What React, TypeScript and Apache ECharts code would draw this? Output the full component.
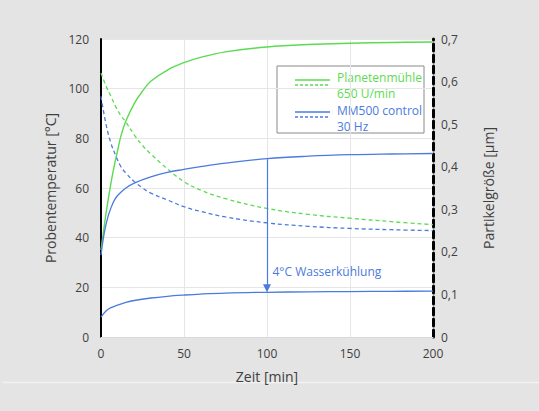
import React, { useEffect, useRef } from "react";
import * as echarts from "echarts";

// Zeit [min]
const planetTime = [0, 2, 4, 6, 8, 10, 12, 15, 20, 25, 30, 40, 50, 60, 75, 100, 125, 150, 175, 200];
// Probentemperatur [°C], Planetenmühle 650 U/min
const planetTemp = [35, 45, 54, 62, 69, 75, 81, 87, 94, 99, 103, 107.5, 110.5, 112.6, 114.8, 116.8, 117.8, 118.3, 118.6, 118.8];

const sizeTime = [0, 3, 6, 9, 12, 15, 20, 25, 30, 40, 50, 60, 75, 100, 125, 150, 175, 200];
// Partikelgröße [µm]
const planetSize = [0.62, 0.59, 0.565, 0.54, 0.52, 0.505, 0.475, 0.45, 0.43, 0.395, 0.365, 0.345, 0.325, 0.302, 0.288, 0.279, 0.271, 0.264];
const mmSize = [0.565, 0.5, 0.455, 0.425, 0.4, 0.385, 0.365, 0.35, 0.338, 0.322, 0.306, 0.295, 0.282, 0.268, 0.26, 0.255, 0.252, 0.25];

const mmTime = [0, 2, 4, 6, 8, 10, 15, 20, 30, 40, 50, 60, 75, 100, 125, 150, 175, 200];
const mmTemp = [33, 42, 48, 52, 55, 57, 60, 62, 64.5, 66.3, 67.5, 68.6, 70, 71.8, 72.8, 73.4, 73.7, 73.9];

const coolTime = [0, 3, 6, 10, 15, 20, 30, 40, 50, 60, 75, 100, 125, 150, 175, 200];
const coolTemp = [8, 10.5, 11.8, 12.8, 13.9, 14.7, 15.7, 16.4, 16.9, 17.3, 17.7, 18.0, 18.2, 18.3, 18.4, 18.5];

const GREEN = "#5cdb52";
const BLUE = "#4b7bdc";
const FONT = "Open Sans";

const pairs = (xs: number[], ys: number[]) => xs.map((x, i) => [x, ys[i]]);

const App: React.FC = () => {
  const chartRef = useRef<HTMLDivElement>(null);

  useEffect(() => {
    document.body.style.margin = "0";
    if (!chartRef.current) return;
    const chart = echarts.init(chartRef.current, null, { renderer: "svg" });

    const axisLabel = { color: "#404040", fontSize: 12, fontFamily: FONT };
    const nameStyle = { color: "#404040", fontSize: 14, fontFamily: FONT };
    const lineBase = { type: "line", smooth: 0.4, showSymbol: false };

    chart.setOption({
      animation: false,
      backgroundColor: "#e4e4e4",
      textStyle: { fontFamily: FONT },
      grid: { left: 101, right: 106, top: 39, bottom: 74, show: true, backgroundColor: "#ffffff", borderWidth: 0 },
      xAxis: {
        type: "value",
        min: 0,
        max: 200,
        interval: 50,
        name: "Zeit [min]",
        nameLocation: "middle",
        nameGap: 32,
        nameTextStyle: nameStyle,
        axisLine: { show: true, lineStyle: { color: "#dadada" } },
        axisTick: { show: false },
        axisLabel: { ...axisLabel, margin: 10 },
        splitLine: { lineStyle: { color: "#e6e6e6" } },
      },
      yAxis: [
        {
          type: "value",
          min: 0,
          max: 120,
          interval: 20,
          name: "Probentemperatur [°C]",
          nameLocation: "middle",
          nameGap: 40,
          nameTextStyle: nameStyle,
          axisLine: { show: true, lineStyle: { color: "#000", width: 2 } },
          axisTick: { show: false },
          axisLabel: { ...axisLabel, margin: 12 },
          splitLine: { lineStyle: { color: "#e6e6e6" } },
        },
        {
          type: "value",
          min: 0,
          max: 0.7,
          interval: 0.1,
          position: "right",
          name: "Partikelgröße [µm]",
          nameLocation: "middle",
          nameGap: 48,
          nameTextStyle: nameStyle,
          axisLine: { show: true, lineStyle: { color: "#000", width: 3, type: [7, 4] } },
          axisTick: { show: false },
          axisLabel: {
            ...axisLabel,
            margin: 8,
            formatter: (v: number) => (Math.round(v * 10) / 10).toString().replace(".", ","),
          },
          splitLine: { show: false },
        },
      ],
      series: [
        {
          ...lineBase,
          name: "Planetenmühle Temperatur",
          data: pairs(planetTime, planetTemp),
          lineStyle: { color: GREEN, width: 1.4 },
        },
        {
          ...lineBase,
          name: "Planetenmühle Partikelgröße",
          yAxisIndex: 1,
          data: pairs(sizeTime, planetSize),
          lineStyle: { color: GREEN, width: 1.3, type: [4, 3] },
        },
        {
          ...lineBase,
          name: "MM500 Temperatur",
          data: pairs(mmTime, mmTemp),
          lineStyle: { color: BLUE, width: 1.3 },
          markLine: {
            silent: true,
            symbol: ["none", "triangle"],
            symbolSize: [8, 8],
            label: { show: false },
            lineStyle: { color: BLUE, width: 1.2, type: "solid" },
            data: [[{ coord: [100, 71.6] }, { coord: [100, 19.6] }]],
          },
        },
        {
          ...lineBase,
          name: "MM500 Partikelgröße",
          yAxisIndex: 1,
          data: pairs(sizeTime, mmSize),
          lineStyle: { color: BLUE, width: 1.3, type: [4, 3] },
        },
        {
          ...lineBase,
          name: "MM500 Wasserkühlung",
          data: pairs(coolTime, coolTemp),
          lineStyle: { color: BLUE, width: 1.3 },
          markPoint: {
            silent: true,
            symbol: "circle",
            symbolSize: 1,
            itemStyle: { color: "transparent" },
            label: {
              show: true,
              position: "right",
              distance: 0,
              color: BLUE,
              fontSize: 12,
              fontFamily: FONT,
              formatter: "4°C Wasserkühlung",
            },
            data: [{ coord: [103, 26.5] }],
          },
        },
      ],
      graphic: [
        { type: "line", left: 0, top: 380, shape: { x1: 0, y1: 0, x2: 539, y2: 0 }, style: { stroke: "#f2f2f2", lineWidth: 1.5 } },
        { type: "rect", shape: { x: 277, y: 66, width: 147, height: 67 }, style: { fill: "#fff", stroke: "#8a8a8a", lineWidth: 1 } },
        { type: "line", shape: { x1: 295, y1: 80, x2: 330, y2: 80 }, style: { stroke: GREEN, lineWidth: 1.4 } },
        { type: "line", shape: { x1: 295, y1: 85, x2: 330, y2: 85 }, style: { stroke: GREEN, lineWidth: 1.3, lineDash: [3, 2] } },
        { type: "text", x: 337, y: 77, style: { text: "Planetenmühle", fill: GREEN, fontSize: 12, fontFamily: FONT, verticalAlign: "middle" } },
        { type: "text", x: 337, y: 93, style: { text: "650 U/min", fill: GREEN, fontSize: 12, fontFamily: FONT, verticalAlign: "middle" } },
        { type: "line", shape: { x1: 295, y1: 112, x2: 330, y2: 112 }, style: { stroke: BLUE, lineWidth: 1.3 } },
        { type: "line", shape: { x1: 295, y1: 117, x2: 330, y2: 117 }, style: { stroke: BLUE, lineWidth: 1.3, lineDash: [3, 2] } },
        { type: "text", x: 337, y: 110, style: { text: "MM500 control", fill: BLUE, fontSize: 12, fontFamily: FONT, verticalAlign: "middle" } },
        { type: "text", x: 337, y: 126, style: { text: "30 Hz", fill: BLUE, fontSize: 12, fontFamily: FONT, verticalAlign: "middle" } },
      ],
    });

    return () => {
      chart.dispose();
    };
  }, []);

  return <div ref={chartRef} style={{ width: 539, height: 411 }} />;
};

export default App;
